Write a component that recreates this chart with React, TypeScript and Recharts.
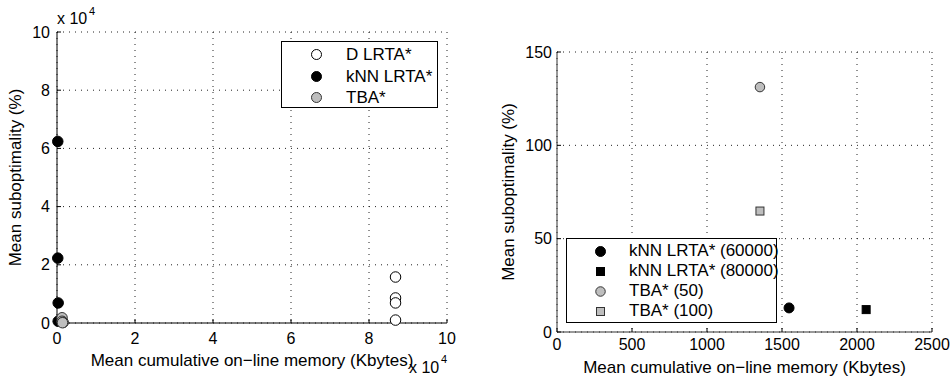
import React from 'react';
import { ScatterChart, Scatter, XAxis, YAxis, CartesianGrid, Legend } from 'recharts';

const FONT = '"Liberation Sans", Arial, Helvetica, sans-serif';

// left panel, raw values (axes are shown as x 10^4)
const dLrtaMemory = [86800, 86800, 86800, 86800];
const dLrtaSubopt = [15800, 8600, 6900, 1000];
const knnMemory = [200, 200, 300, 300];
const knnSubopt = [62400, 22300, 6900, 600];
const tbaMemory = [1300, 1300, 1600, 1400];
const tbaSubopt = [1800, 600, 200, 100];

const leftTicks = [0, 20000, 40000, 60000, 80000, 100000];
const leftMinorX = Array.from({ length: 51 }, (_, i) => i * 2000);

// right panel
const rightLabels = ['kNN LRTA* (60000)', 'kNN LRTA* (80000)', 'TBA* (50)', 'TBA* (100)'];
const rightMemory = [1547, 2061, 1353, 1353];
const rightSubopt = [12.9, 12.0, 131.2, 64.8];
const rightXTicks = [0, 500, 1000, 1500, 2000, 2500];
const rightYTicks = [0, 50, 100, 150];
const rightMinorX = Array.from({ length: 51 }, (_, i) => i * 50);
const rightMinorY = Array.from({ length: 31 }, (_, i) => i * 5);

type Kind = 'open' | 'black' | 'gray' | 'blackSquare' | 'graySquare';

const zip = (xs: number[], ys: number[]) => xs.map((x, i) => ({ x, y: ys[i] }));

const Marker = ({ kind, cx, cy, size }: { kind: Kind; cx: number; cy: number; size: number }) => {
  if (kind === 'blackSquare' || kind === 'graySquare') {
    const fill = kind === 'blackSquare' ? '#000' : '#bebebe';
    const stroke = kind === 'blackSquare' ? '#000' : '#333';
    return <rect x={cx - size / 2} y={cy - size / 2} width={size} height={size} fill={fill} stroke={stroke} strokeWidth={1} />;
  }
  const fill = kind === 'open' ? '#fff' : kind === 'black' ? '#000' : '#bebebe';
  const stroke = kind === 'gray' ? '#333' : '#000';
  return <circle cx={cx} cy={cy} r={size / 2} fill={fill} stroke={stroke} strokeWidth={1} />;
};

const shapeOf = (kind: Kind, size: number) => (p: any) => <Marker kind={kind} cx={p.cx} cy={p.cy} size={size} />;

const LegendBox = ({ items, rowHeight, markerX, textX }: { items: { label: string; kind: Kind; size: number }[]; rowHeight: number; markerX: number; textX: number }) => (
  <div style={{ boxSizing: 'border-box', width: '100%', height: '100%', border: '1px solid #000', background: '#fff', paddingTop: 2, fontFamily: FONT, fontSize: 17 }}>
    {items.map((it) => (
      <div key={it.label} style={{ position: 'relative', height: rowHeight }}>
        <svg width={13} height={13} style={{ position: 'absolute', left: markerX - 6.5, top: rowHeight / 2 - 6.5 }}>
          <Marker kind={it.kind} cx={6.5} cy={6.5} size={it.size} />
        </svg>
        <span style={{ position: 'absolute', left: textX, top: 0, lineHeight: `${rowHeight}px`, whiteSpace: 'nowrap' }}>{it.label}</span>
      </div>
    ))}
  </div>
);

const tickStyle = { fill: '#000', fontSize: 16, fontFamily: FONT };
const labelStyle = { fill: '#000', fontSize: 17, fontFamily: FONT, textAnchor: 'middle' as const };
const fmt4 = (v: number) => String(v / 10000);

const multStyle: React.CSSProperties = { position: 'absolute', fontFamily: FONT, fontSize: 16, lineHeight: '16px', color: '#000', whiteSpace: 'nowrap' };

export default function App() {
  return (
    <div style={{ position: 'absolute', left: 0, top: 0, width: 952, height: 378, background: '#fff' }}>
      <div style={{ position: 'absolute', left: 0, top: 0 }}>
        <ScatterChart width={480} height={378} margin={{ top: 32, right: 33, left: 0, bottom: 0 }}>
          <CartesianGrid stroke="#222" strokeDasharray="1 5" strokeWidth={1} />
          <XAxis xAxisId="minor" type="number" dataKey="x" domain={[0, 100000]} ticks={leftMinorX} height={0} tick={false} axisLine={false} tickSize={-2} tickLine={{ stroke: '#000' }} />
          <XAxis type="number" dataKey="x" domain={[0, 100000]} ticks={leftTicks} tickFormatter={fmt4} height={55} tickSize={-4} tickMargin={14} tick={tickStyle} axisLine={{ stroke: '#000' }} tickLine={{ stroke: '#000' }}
            label={{ value: 'Mean cumulative on\u2212line memory (Kbytes)', position: 'insideBottom', offset: 12, style: labelStyle }} />
          <YAxis type="number" dataKey="y" domain={[0, 100000]} ticks={leftTicks} tickFormatter={fmt4} width={57} tickSize={-4} tickMargin={11} tick={tickStyle} axisLine={{ stroke: '#000' }} tickLine={{ stroke: '#000' }}
            label={{ value: 'Mean suboptimality (%)', angle: -90, position: 'insideLeft', offset: 15, style: labelStyle }} />
          <Scatter name="D LRTA*" data={zip(dLrtaMemory, dLrtaSubopt)} shape={shapeOf('open', 10.5)} isAnimationActive={false} />
          <Scatter name="kNN LRTA*" data={zip(knnMemory, knnSubopt)} shape={shapeOf('black', 10.5)} isAnimationActive={false} />
          <Scatter name="TBA*" data={zip(tbaMemory, tbaSubopt)} shape={shapeOf('gray', 10.5)} isAnimationActive={false} />
          <Legend layout="horizontal" verticalAlign="middle" align="center"
            wrapperStyle={{ left: 281, top: 41, width: 157, height: 67 }}
            content={() => (
              <LegendBox rowHeight={21.5} markerX={34} textX={64} items={[
                { label: 'D LRTA*', kind: 'open', size: 10 },
                { label: 'kNN LRTA*', kind: 'black', size: 10 },
                { label: 'TBA*', kind: 'gray', size: 10 },
              ]} />
            )} />
        </ScatterChart>
      </div>
      <span style={{ ...multStyle, left: 57, top: 11 }}>x 10</span>
      <span style={{ ...multStyle, left: 89, top: 6, fontSize: 11, lineHeight: '11px' }}>4</span>
      <span style={{ ...multStyle, left: 409, top: 360 }}>x 10</span>
      <span style={{ ...multStyle, left: 441, top: 354, fontSize: 11, lineHeight: '11px' }}>4</span>

      <div style={{ position: 'absolute', left: 480, top: 0 }}>
        <ScatterChart width={472} height={378} margin={{ top: 52, right: 20, left: 0, bottom: 0 }}>
          <CartesianGrid stroke="#222" strokeDasharray="1 5" strokeWidth={1} />
          <XAxis xAxisId="minor" type="number" dataKey="x" domain={[0, 2500]} ticks={rightMinorX} height={0} tick={false} axisLine={false} tickSize={-2} tickLine={{ stroke: '#000' }} />
          <YAxis yAxisId="minor" type="number" dataKey="y" domain={[0, 150]} ticks={rightMinorY} width={0} tick={false} axisLine={false} tickSize={-2} tickLine={{ stroke: '#000' }} />
          <XAxis type="number" dataKey="x" domain={[0, 2500]} ticks={rightXTicks} height={46} tickSize={-4} tickMargin={11} tick={tickStyle} axisLine={{ stroke: '#333' }} tickLine={{ stroke: '#000' }}
            label={{ value: 'Mean cumulative on\u2212line memory (Kbytes)', position: 'insideBottom', offset: 5, style: labelStyle }} />
          <YAxis type="number" dataKey="y" domain={[0, 150]} ticks={rightYTicks} width={77} tickSize={-4} tickMargin={9} tick={tickStyle} axisLine={{ stroke: '#333' }} tickLine={{ stroke: '#000' }}
            label={{ value: 'Mean suboptimality (%)', angle: -90, position: 'insideLeft', offset: 28, style: labelStyle }} />
          <Scatter name={rightLabels[0]} data={zip([rightMemory[0]], [rightSubopt[0]])} shape={shapeOf('black', 10)} isAnimationActive={false} />
          <Scatter name={rightLabels[1]} data={zip([rightMemory[1]], [rightSubopt[1]])} shape={shapeOf('blackSquare', 8)} isAnimationActive={false} />
          <Scatter name={rightLabels[2]} data={zip([rightMemory[2]], [rightSubopt[2]])} shape={shapeOf('gray', 9.5)} isAnimationActive={false} />
          <Scatter name={rightLabels[3]} data={zip([rightMemory[3]], [rightSubopt[3]])} shape={shapeOf('graySquare', 8)} isAnimationActive={false} />
          <Legend layout="horizontal" verticalAlign="middle" align="center"
            wrapperStyle={{ left: 86, top: 238, width: 211, height: 85 }}
            content={() => (
              <LegendBox rowHeight={20} markerX={33} textX={62} items={[
                { label: rightLabels[0], kind: 'black', size: 10 },
                { label: rightLabels[1], kind: 'blackSquare', size: 8 },
                { label: rightLabels[2], kind: 'gray', size: 9.5 },
                { label: rightLabels[3], kind: 'graySquare', size: 8 },
              ]} />
            )} />
        </ScatterChart>
      </div>
    </div>
  );
}
